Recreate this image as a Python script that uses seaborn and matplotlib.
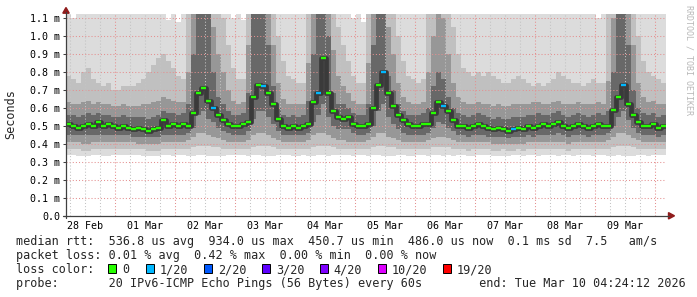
import numpy as np
import pandas as pd
import matplotlib
matplotlib.use("Agg")
import matplotlib.pyplot as plt
import matplotlib.dates as mdates
import seaborn as sns
from matplotlib.patches import Rectangle, Polygon
from matplotlib.lines import Line2D

# ------------------------------------------------------------------ data
series_start = "2026-02-28 04:24:12"
series_end = "2026-03-10 04:24:12"
bin_step = "2h"

# median rtt in ms, one value per 2 hours (12 values per row = 24 h)
median_ms = [
    0.51, 0.50, 0.49, 0.50, 0.51, 0.50, 0.52, 0.50, 0.51, 0.50, 0.49, 0.50,
    0.49, 0.48, 0.49, 0.48, 0.47, 0.48, 0.49, 0.53, 0.50, 0.51, 0.50, 0.51,
    0.50, 0.57, 0.68, 0.71, 0.64, 0.60, 0.56, 0.53, 0.51, 0.50, 0.50, 0.51,
    0.52, 0.66, 0.73, 0.72, 0.68, 0.62, 0.54, 0.50, 0.49, 0.50, 0.49, 0.50,
    0.51, 0.63, 0.68, 0.88, 0.68, 0.58, 0.55, 0.54, 0.55, 0.51, 0.50, 0.50,
    0.51, 0.60, 0.73, 0.80, 0.68, 0.61, 0.56, 0.53, 0.51, 0.50, 0.50, 0.51,
    0.51, 0.57, 0.63, 0.61, 0.58, 0.53, 0.50, 0.50, 0.49, 0.50, 0.51, 0.50,
    0.49, 0.48, 0.49, 0.48, 0.47, 0.48, 0.49, 0.48, 0.50, 0.49, 0.50, 0.51,
    0.50, 0.51, 0.52, 0.50, 0.49, 0.50, 0.51, 0.50, 0.49, 0.50, 0.51, 0.50,
    0.50, 0.59, 0.66, 0.73, 0.62, 0.56, 0.52, 0.50, 0.50, 0.51, 0.49, 0.50,
]
# lost pings (of 20) per 2-hour bin
loss_of_20 = [
    0, 0, 0, 0, 0, 0, 0, 0, 0, 0, 0, 0,
    0, 0, 0, 0, 0, 0, 0, 0, 0, 0, 0, 0,
    0, 0, 0, 0, 0, 1, 0, 0, 0, 0, 0, 0,
    0, 0, 0, 1, 0, 0, 0, 0, 0, 0, 0, 0,
    0, 0, 1, 0, 0, 0, 0, 0, 0, 0, 0, 0,
    0, 0, 0, 1, 0, 0, 0, 0, 0, 0, 0, 0,
    0, 0, 0, 1, 0, 0, 0, 0, 0, 0, 0, 0,
    0, 0, 0, 0, 0, 1, 0, 0, 0, 0, 0, 0,
    0, 0, 0, 0, 0, 0, 0, 0, 0, 0, 0, 0,
    0, 0, 0, 1, 0, 0, 0, 0, 0, 0, 0, 0,
]

# smoke: ping-rank levels in ms, one value per 2 hours
smoke_min = [
    0.34, 0.34, 0.33, 0.33, 0.33, 0.34, 0.34, 0.33, 0.33, 0.34, 0.34, 0.34,
    0.34, 0.34, 0.34, 0.33, 0.33, 0.33, 0.33, 0.34, 0.34, 0.33, 0.34, 0.34,
    0.33, 0.33, 0.34, 0.34, 0.33, 0.33, 0.33, 0.33, 0.34, 0.34, 0.34, 0.34,
    0.33, 0.34, 0.34, 0.33, 0.33, 0.33, 0.34, 0.34, 0.34, 0.33, 0.33, 0.34,
    0.33, 0.33, 0.34, 0.34, 0.33, 0.34, 0.34, 0.34, 0.34, 0.33, 0.34, 0.34,
    0.33, 0.34, 0.34, 0.33, 0.33, 0.33, 0.34, 0.34, 0.33, 0.33, 0.34, 0.34,
    0.33, 0.34, 0.34, 0.33, 0.34, 0.33, 0.34, 0.34, 0.33, 0.33, 0.34, 0.34,
    0.34, 0.33, 0.33, 0.33, 0.33, 0.34, 0.34, 0.33, 0.34, 0.34, 0.33, 0.34,
    0.34, 0.34, 0.33, 0.34, 0.34, 0.33, 0.34, 0.34, 0.34, 0.33, 0.34, 0.34,
    0.33, 0.33, 0.34, 0.33, 0.33, 0.33, 0.34, 0.34, 0.33, 0.34, 0.34, 0.34,
]
smoke_lo_b = [
    0.37, 0.37, 0.37, 0.36, 0.36, 0.37, 0.37, 0.37, 0.37, 0.37, 0.37, 0.37,
    0.37, 0.37, 0.37, 0.37, 0.36, 0.36, 0.36, 0.37, 0.37, 0.37, 0.37, 0.37,
    0.37, 0.38, 0.39, 0.39, 0.39, 0.38, 0.38, 0.37, 0.37, 0.37, 0.37, 0.37,
    0.37, 0.38, 0.39, 0.39, 0.39, 0.38, 0.37, 0.37, 0.37, 0.37, 0.37, 0.37,
    0.37, 0.38, 0.39, 0.39, 0.39, 0.38, 0.37, 0.37, 0.37, 0.37, 0.37, 0.37,
    0.37, 0.38, 0.39, 0.39, 0.38, 0.38, 0.37, 0.37, 0.37, 0.37, 0.37, 0.37,
    0.37, 0.38, 0.38, 0.38, 0.38, 0.37, 0.37, 0.37, 0.36, 0.37, 0.37, 0.37,
    0.37, 0.36, 0.36, 0.37, 0.36, 0.36, 0.37, 0.36, 0.37, 0.37, 0.37, 0.37,
    0.37, 0.37, 0.37, 0.37, 0.36, 0.37, 0.37, 0.37, 0.37, 0.37, 0.37, 0.37,
    0.37, 0.38, 0.39, 0.39, 0.39, 0.38, 0.37, 0.37, 0.37, 0.37, 0.37, 0.37,
]
smoke_lo_c = [
    0.41, 0.41, 0.41, 0.40, 0.40, 0.41, 0.41, 0.41, 0.41, 0.41, 0.41, 0.41,
    0.41, 0.41, 0.40, 0.40, 0.40, 0.40, 0.40, 0.41, 0.41, 0.41, 0.41, 0.41,
    0.42, 0.44, 0.46, 0.46, 0.45, 0.44, 0.43, 0.42, 0.41, 0.41, 0.41, 0.41,
    0.42, 0.45, 0.46, 0.46, 0.45, 0.43, 0.42, 0.41, 0.41, 0.41, 0.41, 0.41,
    0.42, 0.45, 0.46, 0.46, 0.45, 0.43, 0.42, 0.42, 0.41, 0.41, 0.41, 0.41,
    0.42, 0.44, 0.46, 0.46, 0.44, 0.43, 0.42, 0.41, 0.41, 0.41, 0.41, 0.41,
    0.42, 0.43, 0.44, 0.44, 0.43, 0.42, 0.41, 0.41, 0.41, 0.41, 0.41, 0.41,
    0.41, 0.40, 0.40, 0.40, 0.40, 0.40, 0.40, 0.40, 0.41, 0.41, 0.41, 0.41,
    0.41, 0.41, 0.41, 0.41, 0.40, 0.41, 0.41, 0.41, 0.41, 0.41, 0.41, 0.41,
    0.42, 0.44, 0.46, 0.46, 0.45, 0.43, 0.42, 0.41, 0.41, 0.41, 0.41, 0.41,
]
smoke_lo_d = [
    0.45, 0.45, 0.45, 0.45, 0.45, 0.45, 0.45, 0.45, 0.45, 0.45, 0.45, 0.45,
    0.45, 0.44, 0.44, 0.44, 0.44, 0.44, 0.44, 0.45, 0.45, 0.45, 0.45, 0.45,
    0.46, 0.49, 0.56, 0.58, 0.54, 0.52, 0.49, 0.47, 0.46, 0.45, 0.45, 0.45,
    0.47, 0.54, 0.58, 0.58, 0.55, 0.51, 0.47, 0.45, 0.45, 0.45, 0.45, 0.45,
    0.46, 0.52, 0.56, 0.62, 0.55, 0.50, 0.48, 0.48, 0.48, 0.46, 0.45, 0.45,
    0.46, 0.50, 0.58, 0.62, 0.55, 0.51, 0.48, 0.46, 0.45, 0.45, 0.45, 0.45,
    0.46, 0.49, 0.52, 0.51, 0.49, 0.47, 0.45, 0.45, 0.44, 0.45, 0.45, 0.45,
    0.44, 0.44, 0.44, 0.44, 0.43, 0.44, 0.44, 0.44, 0.45, 0.44, 0.45, 0.45,
    0.45, 0.45, 0.46, 0.45, 0.44, 0.45, 0.45, 0.45, 0.44, 0.45, 0.45, 0.45,
    0.46, 0.50, 0.55, 0.58, 0.53, 0.49, 0.46, 0.45, 0.45, 0.45, 0.44, 0.45,
]
smoke_hi_d = [
    0.56, 0.56, 0.55, 0.56, 0.57, 0.56, 0.57, 0.56, 0.56, 0.55, 0.55, 0.56,
    0.55, 0.55, 0.55, 0.55, 0.54, 0.55, 0.56, 0.58, 0.57, 0.57, 0.56, 0.57,
    0.62, 0.90, 1.20, 1.20, 1.20, 0.80, 0.66, 0.62, 0.58, 0.56, 0.56, 0.57,
    0.68, 1.20, 1.20, 1.20, 0.95, 0.72, 0.60, 0.56, 0.55, 0.56, 0.55, 0.56,
    0.64, 0.90, 1.20, 1.20, 1.00, 0.68, 0.62, 0.62, 0.60, 0.57, 0.56, 0.56,
    0.62, 0.95, 1.20, 1.20, 0.78, 0.70, 0.62, 0.58, 0.56, 0.56, 0.56, 0.57,
    0.60, 0.72, 0.80, 0.76, 0.66, 0.60, 0.57, 0.56, 0.55, 0.56, 0.57, 0.56,
    0.55, 0.54, 0.55, 0.54, 0.54, 0.55, 0.55, 0.55, 0.56, 0.56, 0.57, 0.56,
    0.56, 0.57, 0.58, 0.56, 0.55, 0.56, 0.57, 0.56, 0.55, 0.56, 0.57, 0.56,
    0.58, 0.80, 1.20, 1.20, 0.95, 0.70, 0.60, 0.57, 0.56, 0.57, 0.55, 0.56,
]
smoke_hi_c = [
    0.63, 0.62, 0.62, 0.63, 0.64, 0.62, 0.63, 0.62, 0.62, 0.61, 0.61, 0.62,
    0.61, 0.61, 0.61, 0.62, 0.62, 0.63, 0.64, 0.66, 0.65, 0.64, 0.63, 0.63,
    0.80, 1.20, 1.20, 1.20, 1.20, 1.05, 0.90, 0.80, 0.70, 0.64, 0.62, 0.63,
    0.95, 1.20, 1.20, 1.20, 1.20, 0.95, 0.74, 0.65, 0.62, 0.62, 0.62, 0.62,
    0.85, 1.20, 1.20, 1.20, 1.20, 0.92, 0.78, 0.72, 0.68, 0.64, 0.62, 0.62,
    0.85, 1.20, 1.20, 1.20, 1.05, 0.90, 0.74, 0.66, 0.63, 0.62, 0.62, 0.63,
    0.80, 1.00, 1.20, 1.10, 0.90, 0.74, 0.66, 0.63, 0.62, 0.62, 0.63, 0.62,
    0.62, 0.61, 0.62, 0.61, 0.61, 0.62, 0.62, 0.62, 0.62, 0.63, 0.63, 0.62,
    0.62, 0.63, 0.64, 0.62, 0.62, 0.62, 0.63, 0.62, 0.62, 0.62, 0.63, 0.62,
    0.75, 1.10, 1.20, 1.20, 1.20, 0.95, 0.74, 0.66, 0.63, 0.64, 0.62, 0.62,
]
smoke_hi_b = [
    0.78, 0.76, 0.74, 0.80, 0.82, 0.76, 0.74, 0.72, 0.74, 0.70, 0.70, 0.72,
    0.72, 0.72, 0.74, 0.76, 0.80, 0.84, 0.88, 0.90, 0.86, 0.82, 0.78, 0.76,
    1.20, 1.20, 1.20, 1.20, 1.20, 1.20, 1.20, 1.10, 0.95, 0.82, 0.76, 0.76,
    1.20, 1.20, 1.20, 1.20, 1.20, 1.20, 1.00, 0.86, 0.78, 0.76, 0.74, 0.74,
    1.20, 1.20, 1.20, 1.20, 1.20, 1.20, 1.05, 0.95, 0.86, 0.78, 0.74, 0.74,
    1.20, 1.20, 1.20, 1.20, 1.20, 1.20, 1.00, 0.86, 0.78, 0.76, 0.74, 0.76,
    1.20, 1.20, 1.20, 1.20, 1.20, 1.05, 0.90, 0.82, 0.80, 0.78, 0.80, 0.78,
    0.80, 0.78, 0.76, 0.74, 0.74, 0.76, 0.78, 0.76, 0.74, 0.72, 0.74, 0.72,
    0.74, 0.76, 0.80, 0.78, 0.76, 0.74, 0.74, 0.72, 0.74, 0.76, 0.74, 0.74,
    1.20, 1.20, 1.20, 1.20, 1.20, 1.20, 1.00, 0.86, 0.80, 0.78, 0.76, 0.74,
]
smoke_max = [
    1.20, 1.10, 1.20, 1.20, 1.18, 1.20, 1.20, 1.20, 1.19, 1.20, 1.20, 1.17,
    1.20, 1.20, 1.18, 1.20, 1.20, 1.19, 1.20, 1.20, 1.09, 1.20, 1.08, 1.20,
    1.20, 1.20, 1.25, 1.25, 1.25, 1.20, 1.20, 1.20, 1.20, 1.10, 1.20, 1.09,
    1.20, 1.25, 1.25, 1.25, 1.25, 1.20, 1.20, 1.19, 1.20, 1.20, 1.18, 1.20,
    1.20, 1.25, 1.25, 1.25, 1.25, 1.20, 1.20, 1.20, 1.20, 1.10, 1.20, 1.08,
    1.20, 1.25, 1.25, 1.25, 1.22, 1.20, 1.20, 1.20, 1.18, 1.20, 1.20, 1.20,
    1.20, 1.22, 1.25, 1.22, 1.20, 1.20, 1.20, 1.19, 1.20, 1.20, 1.20, 1.20,
    1.20, 1.19, 1.20, 1.20, 1.18, 1.20, 1.20, 1.20, 1.20, 1.17, 1.20, 1.20,
    1.20, 1.20, 1.18, 1.20, 1.20, 1.20, 1.19, 1.20, 1.20, 1.20, 1.10, 1.20,
    1.20, 1.25, 1.25, 1.25, 1.25, 1.20, 1.20, 1.20, 1.20, 1.19, 1.20, 1.20,
]

y_ticks_ms = [0.0, 0.1, 0.2, 0.3, 0.4, 0.5, 0.6, 0.7, 0.8, 0.9, 1.0, 1.1]

loss_levels = [0, 1, 2, 3, 4, 10, 19]
loss_labels = ["0", "1/20", "2/20", "3/20", "4/20", "10/20", "19/20"]
loss_colors = ["#26ff00", "#00b8ff", "#0059ff", "#5e00ff", "#7e00ff", "#dd00ff", "#ff0000"]

line_median = "median rtt:  536.8 us avg  934.0 us max  450.7 us min  486.0 us now  0.1 ms sd  7.5   am/s"
line_loss = "packet loss: 0.01 % avg  0.42 % max  0.00 % min  0.00 % now"
line_probe = "probe:       20 IPv6-ICMP Echo Pings (56 Bytes) every 60s        end: Tue Mar 10 04:24:12 2026"
watermark = "RRDTOOL / TOBI OETIKER"

# ------------------------------------------------------------------ drawing
sns.set_theme(style="white")
plt.rcParams["font.family"] = ["DejaVu Sans Mono", "DejaVu Sans"]

W, H = 697, 297
fig = plt.figure(figsize=(W / 100, H / 100), dpi=100, facecolor="white")


def fx(x):
    return x / W


def fy(y):
    return 1 - y / H


L, R, T, B = 66.0, 666.0, 14.0, 215.8
ax = fig.add_axes([fx(L), fy(B), (R - L) / W, (B - T) / H])
ax.set_facecolor("white")

t2 = mdates.date2num(pd.date_range(series_start, periods=len(median_ms) + 1, freq=bin_step))


def ext(a):
    a = np.asarray(a, dtype=float)
    return np.r_[a, a[-1]]


bands = [
    (smoke_min, smoke_max, "#dcdcdc"),
    (smoke_lo_b, smoke_hi_b, "#c0c0c0"),
    (smoke_lo_c, smoke_hi_c, "#979797"),
    (smoke_lo_d, smoke_hi_d, "#686868"),
]
for lo, hi, col in bands:
    ax.fill_between(t2, ext(lo), ext(hi), step="post", color=col, linewidth=0, zorder=1)

# grid
red_grid = "#e49090"
for v in y_ticks_ms[1:]:
    ax.axhline(v, color=red_grid, lw=0.75, ls=(0, (1, 2)), zorder=2)
for gt in pd.date_range("2026-02-28 06:00", series_end, freq="6h"):
    col = red_grid if gt.hour == 0 else "#c4c4c4"
    ax.axvline(mdates.date2num(gt), color=col, lw=0.75, ls=(0, (1, 2)), zorder=2)

# dark core around the median (seaborn)
df = pd.DataFrame({"t": t2, "v": ext(median_ms)})
sns.lineplot(data=df, x="t", y="v", drawstyle="steps-post", color="#3a3a3a",
             linewidth=3.4, ax=ax, zorder=3)

# median coloured by loss
cmap = dict(zip(loss_levels, loss_colors))
ax.hlines(median_ms, t2[:-1], t2[1:], colors=[cmap[l] for l in loss_of_20],
          linewidth=1.7, zorder=5)

ax.set_xlim(t2[0], t2[-1])
ax.set_ylim(0, 1.122)
ax.set_yticks(y_ticks_ms)
ax.set_yticklabels(["0.0" if v == 0 else f"{v:.1f} m" for v in y_ticks_ms])
noon = pd.date_range("2026-02-28 12:00", "2026-03-09 12:00", freq="D")
ax.set_xticks(mdates.date2num(noon))
ax.set_xticklabels([d.strftime("%d %b") for d in noon])
ax.tick_params(axis="y", length=2.5, width=0.75, color="#404040", pad=1.5,
               labelsize=7.2, labelcolor="black", left=True)
ax.tick_params(axis="x", length=0, pad=3.5, labelsize=7.2, labelcolor="black")
for s in ax.spines.values():
    s.set_visible(False)
ax.set_xlabel("")
ax.set_ylabel("")
ax.grid(False)

# axis lines and arrows
axis_col = "#404040"
arrow_col = "#901c1c"
fig.add_artist(Line2D([fx(63), fx(669)], [fy(B), fy(B)], color=axis_col, lw=0.9))
fig.add_artist(Line2D([fx(L), fx(L)], [fy(218), fy(12)], color=axis_col, lw=0.9))
fig.add_artist(Polygon([[fx(668.5), fy(212.6)], [fx(668.5), fy(219.0)], [fx(674.5), fy(B)]],
                       closed=True, color=arrow_col, transform=fig.transFigure))
fig.add_artist(Polygon([[fx(62.8), fy(13.2)], [fx(69.2), fy(13.2)], [fx(L), fy(7.5)]],
                       closed=True, color=arrow_col, transform=fig.transFigure))

# texts
fs = 8.5
fig.text(fx(10.5), fy(114), "Seconds", rotation=90, ha="center", va="center", fontsize=fs)
fig.text(fx(15.5), fy(244.7), line_median, fontsize=fs, va="baseline", ha="left")
fig.text(fx(15.5), fy(259.0), line_loss, fontsize=fs, va="baseline", ha="left")
fig.text(fx(15.5), fy(273.2), "loss color:", fontsize=fs, va="baseline", ha="left")
sq_x = [108.4, 145.8, 204.0, 262.2, 320.0, 377.8, 442.7]
for x0, lab, col in zip(sq_x, loss_labels, loss_colors):
    fig.add_artist(Rectangle((fx(x0), fy(273.2)), 8 / W, 9 / H, facecolor=col,
                             edgecolor="black", lw=0.7, transform=fig.transFigure))
    fig.text(fx(x0 + 13.8), fy(273.2), lab, fontsize=fs, va="baseline", ha="left")
fig.text(fx(15.5), fy(287.3), line_probe, fontsize=fs, va="baseline", ha="left")
fig.text(fx(688.5), fy(5), watermark, rotation=270, ha="center", va="top",
         fontsize=6, color="#b8b8b8")

fig.savefig("out.png", dpi=100, facecolor="white")
